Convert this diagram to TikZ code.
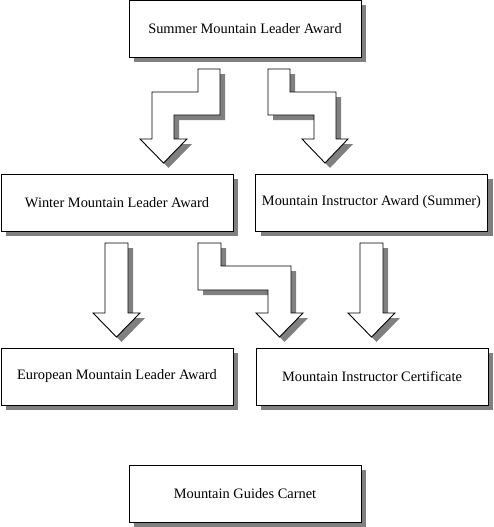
\documentclass[tikz,border=0pt]{standalone}
\usepackage{fontspec}
\setmainfont{Liberation Serif}
\usepackage{tikz}
\usetikzlibrary{shadows}
\definecolor{Shade}{HTML}{808080}

\tikzset{
  award/.style={draw,fill=white,line width=0.9pt,minimum width=232pt,minimum height=57pt,inner sep=0pt,
    drop shadow={shadow xshift=5pt,shadow yshift=-5pt,opacity=1,fill=Shade}},
  blockarrow/.style={draw,fill=white,line width=0.9pt,line join=miter,
    drop shadow={shadow xshift=5pt,shadow yshift=-5pt,opacity=1,fill=Shade}}
}

\begin{document}
\begin{tikzpicture}[x=1pt,y=-1pt,font=\fontsize{14.4}{17}\selectfont]
  \useasboundingbox (0,0) rectangle (493,527);
  % boxes
  \node[award] (sml) at (245,29) {Summer Mountain Leader Award};
  \node[award] (wml) at (117,202.5) {Winter Mountain Leader Award};
  \node[award] (mia) at (371.5,202.5) {Mountain Instructor Award (Summer)};
  \node[award] (eml) at (117,376.5) {European Mountain Leader Award};
  \node[award] (mic) at (372,376.5) {Mountain Instructor Certificate};
  \node[award] (mgc) at (245,493.5) {Mountain Guides Carnet};
  % arrows
  \draw[blockarrow] (198,69)--(220,69)--(220,115)--(174,115)--(174,139)--(187,139)--(163.5,163)--(140,139)--(152,139)--(152,92)--(198,92)--cycle;
  \draw[blockarrow] (268,69)--(290,69)--(290,92)--(336,92)--(336,139)--(348,139)--(325,163)--(302,139)--(314,139)--(314,115)--(268,115)--cycle;
  \draw[blockarrow] (105,243)--(128,243)--(128,313)--(140,313)--(116.5,337)--(93,313)--(105,313)--cycle;
  \draw[blockarrow] (198,243)--(221,243)--(221,266)--(291,266)--(291,313)--(303,313)--(279.5,337)--(256,313)--(268,313)--(268,290)--(198,290)--cycle;
  \draw[blockarrow] (360,243)--(383,243)--(383,313)--(395,313)--(371.5,337)--(348,313)--(360,313)--cycle;
\end{tikzpicture}
\end{document}
